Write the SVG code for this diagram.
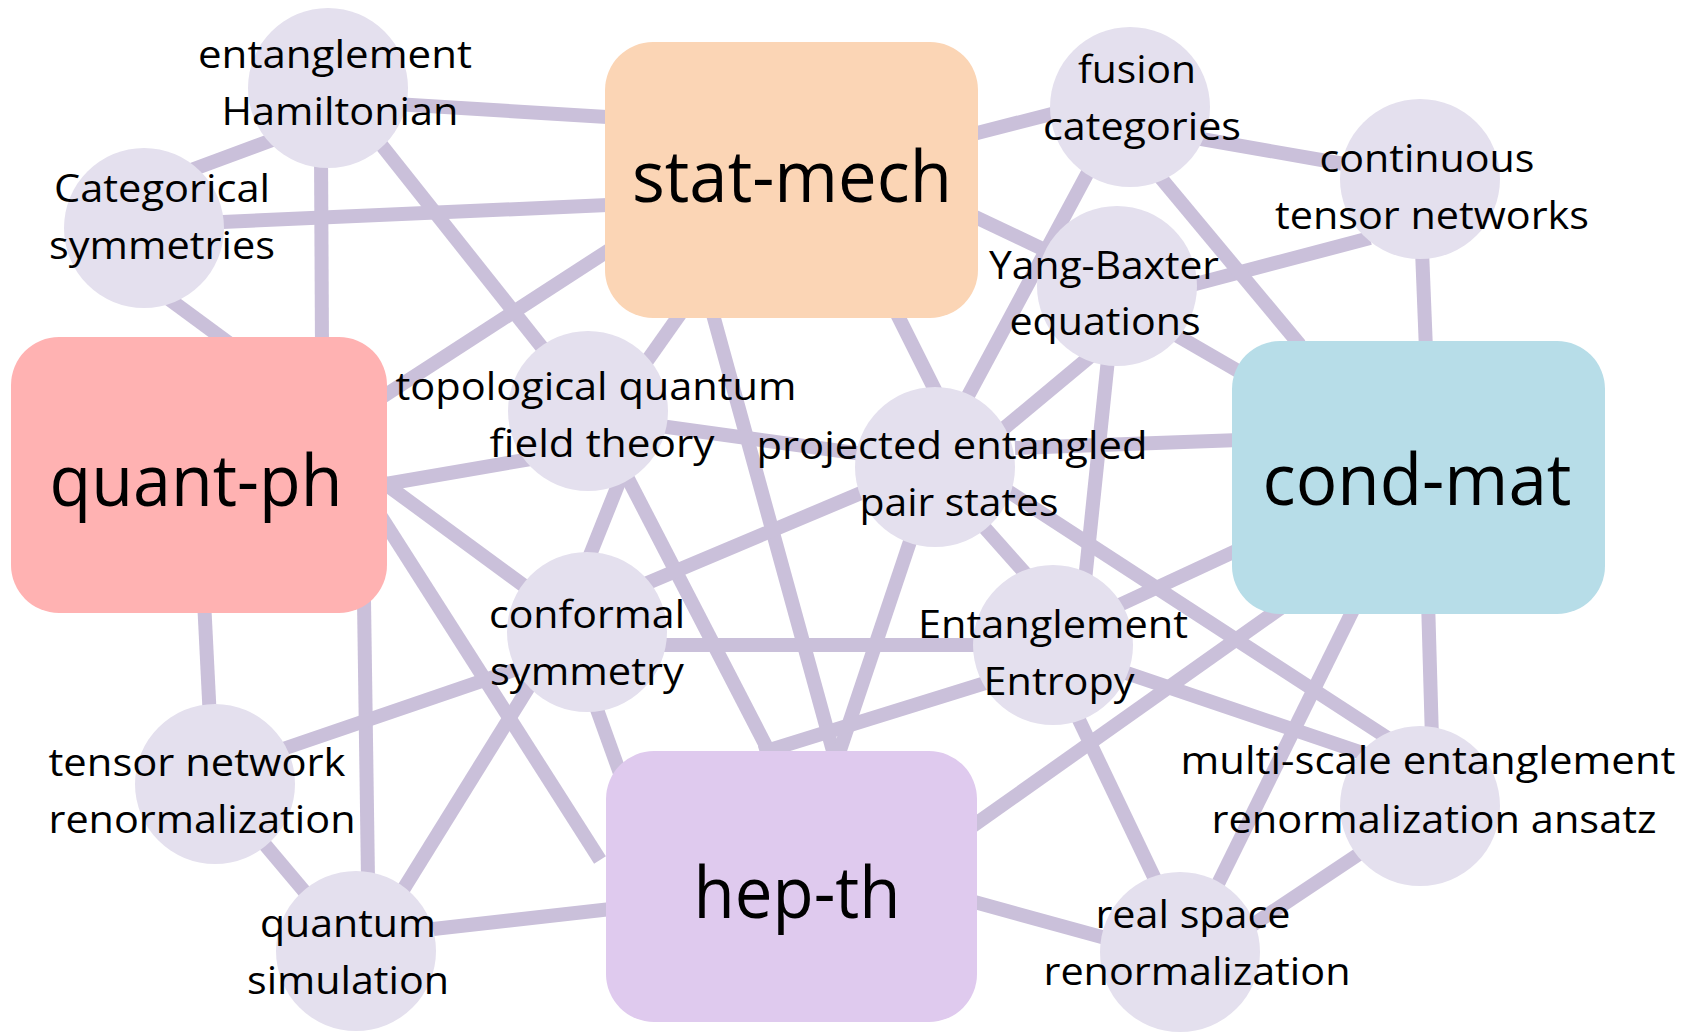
<svg xmlns="http://www.w3.org/2000/svg" width="1700" height="1032" viewBox="0 0 1700 1032">
<style>
.e{stroke:#CAC0DA;stroke-width:14;fill:none}
.c{fill:#E4E0EE}
.t{font-family:"Open Sans","Noto Sans","DejaVu Sans",sans-serif;font-size:38px;fill:#000;text-anchor:middle}
.b{font-family:"Open Sans","Noto Sans","DejaVu Sans",sans-serif;font-size:71px;fill:#000;text-anchor:middle}
</style>
<rect width="1700" height="1032" fill="#FFFFFF"/>
<g id="connectors">
<line class="e" x1="330" y1="100" x2="640" y2="119"/>
<line class="e" x1="175" y1="176" x2="294" y2="132"/>
<line class="e" x1="321" y1="150" x2="322" y2="350"/>
<line class="e" x1="360" y1="118" x2="575" y2="389"/>
<line class="e" x1="200" y1="223" x2="630" y2="204"/>
<line class="e" x1="150" y1="285" x2="245" y2="355"/>
<line class="e" x1="620" y1="243" x2="370" y2="405"/>
<line class="e" x1="950" y1="140" x2="1075" y2="108"/>
<line class="e" x1="950" y1="205" x2="1070" y2="262"/>
<line class="e" x1="690" y1="300" x2="630" y2="385"/>
<line class="e" x1="709" y1="300" x2="841" y2="780"/>
<line class="e" x1="593" y1="411" x2="781" y2="775"/>
<line class="e" x1="935" y1="467" x2="830" y2="780"/>
<line class="e" x1="1053" y1="662" x2="760" y2="753"/>
<line class="e" x1="890" y1="300" x2="945" y2="410"/>
<line class="e" x1="588" y1="416" x2="935" y2="464"/>
<line class="e" x1="380" y1="485" x2="560" y2="454"/>
<line class="e" x1="380" y1="480" x2="587" y2="632"/>
<line class="e" x1="380" y1="515" x2="600" y2="860"/>
<line class="e" x1="204" y1="600" x2="210" y2="720"/>
<line class="e" x1="364" y1="600" x2="368" y2="880"/>
<line class="e" x1="280" y1="750" x2="520" y2="668"/>
<line class="e" x1="240" y1="815" x2="320" y2="910"/>
<line class="e" x1="375" y1="935" x2="530" y2="685"/>
<line class="e" x1="380" y1="935" x2="620" y2="908"/>
<line class="e" x1="572" y1="640" x2="626" y2="790"/>
<line class="e" x1="600" y1="603" x2="880" y2="485"/>
<line class="e" x1="587" y1="645" x2="1053" y2="645"/>
<line class="e" x1="620" y1="480" x2="588" y2="560"/>
<line class="e" x1="990" y1="440" x2="1110" y2="340"/>
<line class="e" x1="955" y1="420" x2="1100" y2="150"/>
<line class="e" x1="1015" y1="448" x2="1240" y2="440"/>
<line class="e" x1="1000" y1="486" x2="1400" y2="746"/>
<line class="e" x1="960" y1="500" x2="1040" y2="590"/>
<line class="e" x1="1110" y1="340" x2="1084" y2="590"/>
<line class="e" x1="1150" y1="296" x2="1370" y2="238"/>
<line class="e" x1="1150" y1="320" x2="1245" y2="375"/>
<line class="e" x1="1190" y1="137" x2="1350" y2="165"/>
<line class="e" x1="1150" y1="165" x2="1300" y2="345"/>
<line class="e" x1="1422" y1="250" x2="1426" y2="350"/>
<line class="e" x1="1100" y1="614" x2="1240" y2="549"/>
<line class="e" x1="1285" y1="605" x2="960" y2="835"/>
<line class="e" x1="1358" y1="600" x2="1210" y2="900"/>
<line class="e" x1="1428" y1="600" x2="1432" y2="740"/>
<line class="e" x1="1100" y1="664" x2="1380" y2="759"/>
<line class="e" x1="1060" y1="680" x2="1165" y2="900"/>
<line class="e" x1="1380" y1="840" x2="1230" y2="940"/>
<line class="e" x1="960" y1="898" x2="1120" y2="942"/>
</g>
<g id="stat-mech">
<rect x="605" y="42" width="373" height="276" rx="48" fill="#FBD5B5"/>
<text class="b" x="792" y="202" textLength="320" lengthAdjust="spacingAndGlyphs">stat-mech</text>
</g>
<g id="quant-ph">
<rect x="11" y="337" width="376" height="276" rx="48" fill="#FFB2B2"/>
<text class="b" x="196" y="506" textLength="293" lengthAdjust="spacingAndGlyphs">quant-ph</text>
</g>
<g id="cond-mat">
<rect x="1232" y="341" width="373" height="273" rx="48" fill="#B7DDE8"/>
<text class="b" x="1417" y="505" textLength="309" lengthAdjust="spacingAndGlyphs">cond-mat</text>
</g>
<g id="hep-th">
<rect x="606" y="751" width="371" height="271" rx="48" fill="#DFCAEE"/>
<text class="b" x="797" y="918" textLength="207" lengthAdjust="spacingAndGlyphs">hep-th</text>
</g>
<g id="entanglement-hamiltonian">
<circle class="c" cx="328" cy="88" r="80"/>
<text class="t" x="335" y="68" textLength="274" lengthAdjust="spacingAndGlyphs">entanglement</text>
<text class="t" x="340" y="125" textLength="237" lengthAdjust="spacingAndGlyphs">Hamiltonian</text>
</g>
<g id="categorical-symmetries">
<circle class="c" cx="144" cy="228" r="80"/>
<text class="t" x="162" y="202" textLength="216" lengthAdjust="spacingAndGlyphs">Categorical</text>
<text class="t" x="162" y="259" textLength="226" lengthAdjust="spacingAndGlyphs">symmetries</text>
</g>
<g id="fusion-categories">
<circle class="c" cx="1130" cy="107" r="80"/>
<text class="t" x="1137" y="83" textLength="118" lengthAdjust="spacingAndGlyphs">fusion</text>
<text class="t" x="1142" y="140" textLength="198" lengthAdjust="spacingAndGlyphs">categories</text>
</g>
<g id="continuous-tensor-networks">
<circle class="c" cx="1420" cy="179" r="80"/>
<text class="t" x="1427" y="172" textLength="215" lengthAdjust="spacingAndGlyphs">continuous</text>
<text class="t" x="1432" y="229" textLength="314" lengthAdjust="spacingAndGlyphs">tensor networks</text>
</g>
<g id="yang-baxter">
<circle class="c" cx="1117" cy="286" r="80"/>
<text class="t" x="1104" y="279" textLength="230" lengthAdjust="spacingAndGlyphs">Yang-Baxter</text>
<text class="t" x="1105" y="335" textLength="191" lengthAdjust="spacingAndGlyphs">equations</text>
</g>
<g id="tqft">
<circle class="c" cx="588" cy="411" r="80"/>
<text class="t" x="596" y="400" textLength="401" lengthAdjust="spacingAndGlyphs">topological quantum</text>
<text class="t" x="602" y="457" textLength="225" lengthAdjust="spacingAndGlyphs">field theory</text>
</g>
<g id="peps">
<circle class="c" cx="935" cy="467" r="80"/>
<text class="t" x="952" y="459" textLength="391" lengthAdjust="spacingAndGlyphs">projected entangled</text>
<text class="t" x="959" y="516" textLength="199" lengthAdjust="spacingAndGlyphs">pair states</text>
</g>
<g id="conformal-symmetry">
<circle class="c" cx="587" cy="632" r="80"/>
<text class="t" x="587" y="628" textLength="196" lengthAdjust="spacingAndGlyphs">conformal</text>
<text class="t" x="587" y="685" textLength="194" lengthAdjust="spacingAndGlyphs">symmetry</text>
</g>
<g id="entanglement-entropy">
<circle class="c" cx="1053" cy="645" r="80"/>
<text class="t" x="1053" y="638" textLength="270" lengthAdjust="spacingAndGlyphs">Entanglement</text>
<text class="t" x="1059" y="695" textLength="151" lengthAdjust="spacingAndGlyphs">Entropy</text>
</g>
<g id="tensor-network-renormalization">
<circle class="c" cx="215" cy="784" r="80"/>
<text class="t" x="197" y="776" textLength="297" lengthAdjust="spacingAndGlyphs">tensor network</text>
<text class="t" x="202" y="833" textLength="307" lengthAdjust="spacingAndGlyphs">renormalization</text>
</g>
<g id="quantum-simulation">
<circle class="c" cx="356" cy="951" r="80"/>
<text class="t" x="348" y="937" textLength="176" lengthAdjust="spacingAndGlyphs">quantum</text>
<text class="t" x="348" y="994" textLength="202" lengthAdjust="spacingAndGlyphs">simulation</text>
</g>
<g id="mera">
<circle class="c" cx="1420" cy="806" r="80"/>
<text class="t" x="1428" y="774" textLength="495" lengthAdjust="spacingAndGlyphs">multi-scale entanglement</text>
<text class="t" x="1434" y="833" textLength="445" lengthAdjust="spacingAndGlyphs">renormalization ansatz</text>
</g>
<g id="real-space-renormalization">
<circle class="c" cx="1180" cy="952" r="80"/>
<text class="t" x="1193" y="928" textLength="195" lengthAdjust="spacingAndGlyphs">real space</text>
<text class="t" x="1197" y="985" textLength="307" lengthAdjust="spacingAndGlyphs">renormalization</text>
</g>
</svg>
